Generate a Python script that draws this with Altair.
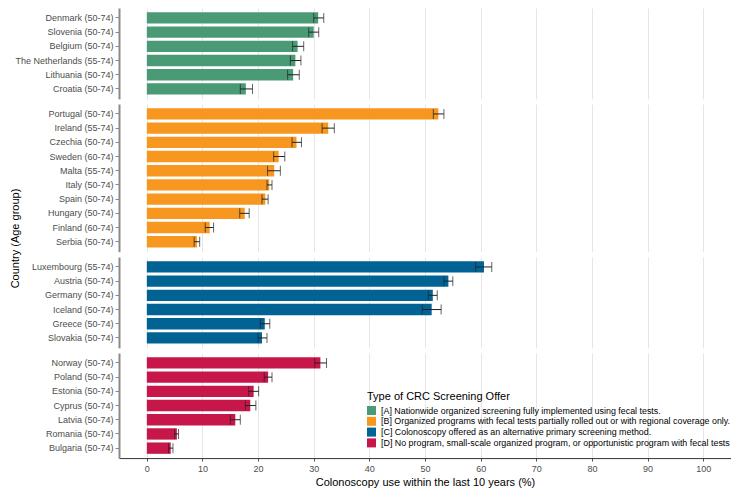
import altair as alt
import pandas as pd

countries = ["Denmark", "Slovenia", "Belgium", "The Netherlands", "Lithuania", "Croatia",
             "Portugal", "Ireland", "Czechia", "Sweden", "Malta", "Italy", "Spain", "Hungary", "Finland", "Serbia",
             "Luxembourg", "Austria", "Germany", "Iceland", "Greece", "Slovakia",
             "Norway", "Poland", "Estonia", "Cyprus", "Latvia", "Romania", "Bulgaria"]
ages = ["50-74", "50-74", "50-74", "55-74", "50-74", "50-74",
        "50-74", "55-74", "50-74", "60-74", "55-74", "50-74", "50-74", "50-74", "60-74", "50-74",
        "55-74", "50-74", "50-74", "50-74", "50-74", "50-74",
        "50-74", "50-74", "50-74", "50-74", "50-74", "50-74", "50-74"]
groups = ["A"] * 6 + ["B"] * 10 + ["C"] * 6 + ["D"] * 7
values = [30.8, 30.0, 27.1, 26.7, 26.3, 17.8,
          52.4, 32.6, 26.9, 23.7, 22.9, 22.0, 21.3, 17.6, 11.3, 9.0,
          60.6, 54.2, 51.4, 51.2, 21.2, 20.7,
          31.2, 21.8, 19.2, 18.6, 15.9, 5.4, 4.3]
lows = [30.0, 29.1, 26.2, 25.8, 25.3, 16.8,
        51.5, 31.5, 26.1, 22.8, 21.7, 21.6, 20.7, 16.7, 10.5, 8.5,
        59.1, 53.4, 50.6, 49.5, 20.4, 20.0,
        30.2, 21.1, 18.3, 17.7, 15.0, 5.0, 3.9]
highs = [31.8, 30.9, 28.2, 27.7, 27.4, 19.0,
         53.4, 33.7, 27.8, 24.8, 24.0, 22.5, 21.8, 18.4, 12.0, 9.5,
         62.0, 55.0, 52.2, 52.9, 22.1, 21.6,
         32.3, 22.5, 20.1, 19.6, 16.8, 5.7, 4.7]

group_keys = ["A", "B", "C", "D"]
group_labels = [
    "[A] Nationwide organized screening fully implemented using fecal tests.",
    "[B] Organized programs with fecal tests partially rolled out or with regional coverage only.",
    "[C] Colonoscopy offered as an alternative primary screening method.",
    "[D] No program, small-scale organized program, or opportunistic program with fecal tests",
]
group_colors = ["#4a9b75", "#f7971f", "#006394", "#c7174a"]
x_ticks = list(range(0, 101, 5))

df = pd.DataFrame({"country": countries, "age": ages, "group": groups,
                   "value": values, "lo": lows, "hi": highs})
df["label"] = df["country"] + " (" + df["age"] + ")"
df["offer"] = df["group"].map(dict(zip(group_keys, group_labels)))

STEP = 14.2
FONT = "Liberation Sans"
grid_color = {"condition": {"test": "datum.value % 10 == 0", "value": "#e6e6e6"}, "value": "#f2f2f2"}


def panel(key, bottom=False, ytitle=False):
    sub = df[df["group"] == key]
    order = list(sub["label"])
    n = len(order)
    h = STEP * (n + 0.4)
    xscale = alt.Scale(domain=[-5, 105], nice=False, zero=False)
    if bottom:
        xaxis = alt.Axis(values=x_ticks, title="Colonoscopy use within the last 10 years (%)",
                         labelExpr="datum.value % 10 == 0 ? datum.label : ''",
                         tickColor={"condition": {"test": "datum.value % 10 == 0", "value": "#555555"},
                                    "value": "transparent"},
                         tickSize=3, labelFontSize=9, labelColor="#4d4d4d", labelPadding=3,
                         domainColor="#333333", domainWidth=1, gridColor=grid_color,
                         titleFontSize=11, titleFontWeight="normal", titleColor="#000000",
                         titlePadding=3, labelFont=FONT, titleFont=FONT)
    else:
        xaxis = alt.Axis(values=x_ticks, labels=False, ticks=False, domain=False, title=None,
                         gridColor=grid_color)
    yaxis_kw = dict(labelFontSize=9, labelColor="#4d4d4d", labelPadding=2, tickSize=4,
                    tickColor="#8a8a8a", domainColor="#8a8a8a", domainWidth=2, grid=False,
                    labelFont=FONT, labelLimit=300)
    if ytitle:
        yaxis = alt.Axis(title="Country (Age group)", titleFontSize=11, titleFontWeight="normal",
                         titleColor="#000000", titleX=-99, titleY=134, titleFont=FONT, **yaxis_kw)
    else:
        yaxis = alt.Axis(title=None, **yaxis_kw)
    y = alt.Y("label:N", sort=order, scale=alt.Scale(paddingInner=0.2, paddingOuter=0.3), axis=yaxis)
    base = alt.Chart(sub)
    bars = base.mark_bar().encode(
        x=alt.X("value:Q", scale=xscale, axis=xaxis),
        y=y,
        color=alt.Color("offer:N", scale=alt.Scale(domain=group_labels, range=group_colors),
                        legend=alt.Legend(title="Type of CRC Screening Offer")),
    )
    rule = base.mark_rule(color="#222222", strokeWidth=1).encode(
        x=alt.X("lo:Q", scale=xscale), x2="hi:Q", y=y)
    cap_lo = base.mark_tick(color="#222222", thickness=1, size=10).encode(
        x=alt.X("lo:Q", scale=xscale), y=y)
    cap_hi = base.mark_tick(color="#222222", thickness=1, size=10).encode(
        x=alt.X("hi:Q", scale=xscale), y=y)
    return alt.layer(bars, rule, cap_lo, cap_hi).properties(width=612, height=h)


chart = alt.vconcat(
    panel("A"), panel("B", ytitle=True), panel("C"), panel("D", bottom=True),
    spacing=5, padding=0, bounds="flush",
).resolve_scale(
    x="shared", y="independent", color="shared"
).resolve_axis(
    x="independent", y="independent"
).configure(
    font=FONT, background="white"
).configure_view(
    stroke=None
).configure_legend(
    orient="none", legendX=248, legendY=383,
    titleFontSize=11, titleFontWeight="normal", titleColor="#000000", titleFont=FONT,
    labelFontSize=8.9, labelColor="#000000", labelFont=FONT, labelLimit=500,
    symbolType="square", symbolSize=81, symbolStrokeWidth=0, symbolOpacity=1,
    rowPadding=0.8, labelOffset=5, titlePadding=4,
)

chart.save("out.html", embed_options={"renderer": "svg", "actions": False})
